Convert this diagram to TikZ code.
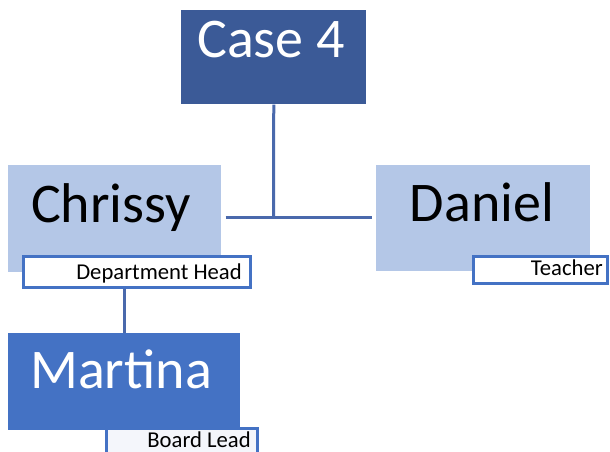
\documentclass[tikz,border=0pt]{standalone}
\usepackage{fontspec}
\setmainfont{Carlito}
\begin{document}
\definecolor{darkblue}{HTML}{3B5A97}
\definecolor{midblue}{HTML}{4472C4}
\definecolor{paleblue}{HTML}{B4C7E7}
\definecolor{linkblue}{HTML}{4A69AC}
\definecolor{tagfill}{HTML}{F4F6FB}
\begin{tikzpicture}[x=0.75pt,y=-0.75pt,
  box/.style={draw=none,rectangle,inner sep=0pt,anchor=north west},
  big/.style={anchor=base,font=\fontsize{42}{42}\selectfont,inner sep=0pt},
  tag/.style={rectangle,draw=midblue,line width=2.25pt,fill=white,inner sep=0pt,anchor=north west},
  tagtext/.style={anchor=base east,font=\fontsize{17}{17}\selectfont,inner sep=0pt},
  link/.style={draw=linkblue,line width=2.25pt}]
\useasboundingbox (0,0) rectangle (610,452);

% people boxes
\node[box,fill=darkblue,minimum width=138.75pt,minimum height=70.5pt] (case) at (181,10) {};
\node[box,fill=paleblue,minimum width=159.75pt,minimum height=80.25pt] (chrissy) at (8,165) {};
\node[box,fill=paleblue,minimum width=160.5pt,minimum height=79.5pt] (daniel) at (376,165) {};
\node[box,fill=midblue,minimum width=174pt,minimum height=72.75pt] (martina) at (8,333) {};

% names
\node[big,text=white] (casetxt) at (271,58) {Case 4};
\node[big] (chrissytxt) at (111,223) {Chrissy};
\node[big] (danieltxt) at (482,222) {Daniel};
\node[big,text=white] (martinatxt) at (121,388) {Martina};

% role tags
\node[tag,minimum width=170.25pt,minimum height=22.5pt] (dept) at (21.5,255.5) {};
\node[tagtext] (depttxt) at (242,280) {Department Head};
\node[tag,minimum width=100.5pt,minimum height=19.5pt] (teach) at (471.5,255.5) {};
\node[tagtext] (teachtxt) at (603,276) {Teacher};
\node[tag,fill=tagfill,minimum width=113.25pt,minimum height=24pt] (board) at (104.5,426.5) {};
\node[tagtext] (boardtxt) at (251,447) {Board Lead};

% connectors
\coordinate (hub) at (273.5,218);
\draw[link] (case.south) -- (hub);
\draw[link,shorten <=3pt,shorten >=3pt] (chrissy.east |- hub) -- (daniel.west |- hub);
\draw[link] (martina.north |- dept.south) -- (martina.north);
\end{tikzpicture}
\end{document}
